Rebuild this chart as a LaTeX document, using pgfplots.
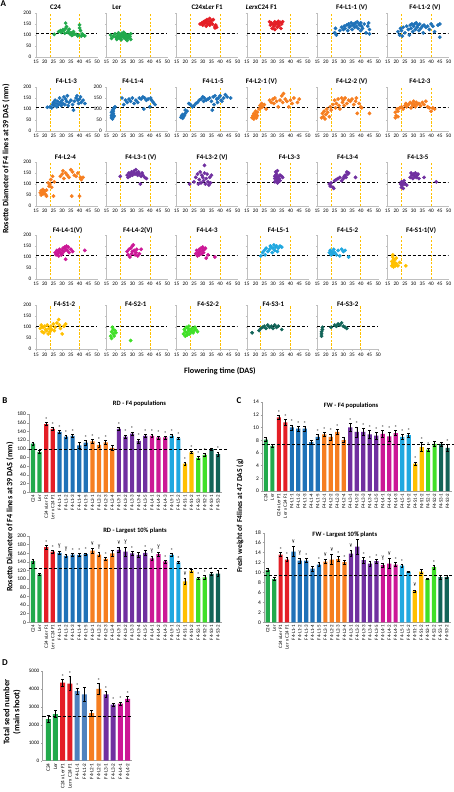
\documentclass[border=0pt]{standalone}
\usepackage{pgfplots}
\usepackage{pgfplotstable}
\pgfplotsset{compat=1.18}
\usepackage{fontspec}
\setmainfont{Carlito}

\definecolor{cPar}{RGB}{34,170,76}
\definecolor{cF1}{RGB}{228,30,38}
\definecolor{cL1}{RGB}{31,114,184}
\definecolor{cL2}{RGB}{246,126,32}
\definecolor{cL3}{RGB}{112,48,160}
\definecolor{cL4}{RGB}{204,24,150}
\definecolor{cL5}{RGB}{32,168,224}
\definecolor{cS1}{RGB}{255,192,0}
\definecolor{cS2}{RGB}{64,224,40}
\definecolor{cS3}{RGB}{18,100,88}
\definecolor{cL1d}{RGB}{79,129,189}
\definecolor{vcol}{RGB}{255,192,0}
\colorlet{g0}{cPar}\colorlet{g1}{cF1}\colorlet{g2}{cL1}\colorlet{g3}{cL2}\colorlet{g4}{cL3}
\colorlet{g5}{cL4}\colorlet{g6}{cL5}\colorlet{g7}{cS1}\colorlet{g8}{cS2}\colorlet{g9}{cS3}
\colorlet{d0}{cPar}\colorlet{d1}{cF1}\colorlet{d2}{cL1d}\colorlet{d3}{cL2}\colorlet{d4}{cL3}\colorlet{d5}{cL4}

\pgfplotsset{
 sc/.style={scale only axis, width=61bp, height=44bp, xmin=15, xmax=50, ymin=0, ymax=200,
  axis x line*=bottom, axis y line*=left, axis line style={draw=gray!50, line width=0.8bp},
  xtick={15,20,...,50}, ytick={0,50,...,200},
  tick align=outside, major tick length=1.2bp, tick style={draw=gray!50, line width=0.4bp},
  tick label style={font=\fontsize{5.3}{5.5}\selectfont},
  x tick label style={inner sep=1.2bp, yshift=-0.8bp},
  y tick label style={inner sep=1.2bp, xshift=-2bp},
  every axis title/.style={at={(0.5,1)}, anchor=center, font=\bfseries\fontsize{7}{7}\selectfont},
  /pgf/number format/assume math mode=true, anchor=south west},
 vl/.style={draw=vcol, line width=0.7bp, dash pattern=on 2.2bp off 1.5bp},
 hl/.style={draw=black, line width=1.1bp, dash pattern=on 3bp off 2bp},
 bc/.style={scale only axis, ybar, bar width=4.2bp, bar shift=0bp,
  xmin=-0.6, xmax=28.6, ymin=0,
  axis x line*=bottom, axis y line*=left, axis line style={draw=gray!75, line width=0.5bp},
  xtick={0,...,28},
  xticklabels={C24,Ler,C24 xLer F1,Ler x C24 F1,F4-L1-1,F4-L1-2,F4-L1-3,F4-L1-4,F4-L1-5,F4-L2-1,F4-L2-2,F4-L2-3,F4-L2-4,F4-L3-1,F4-L3-2,F4-L3-3,F4-L3-4,F4-L3-5,F4-L4-1,F4-L4-2,F4-L4-3,F4-L5-1,F4-L5-2,F4-S1-1,F4-S1-2,F4-S2-1,F4-S2-2,F4-S3-1,F4-S3-2},
  x tick label style={rotate=90, anchor=east, font=\fontsize{5}{5}\selectfont, inner sep=1bp},
  y tick label style={font=\fontsize{5.5}{5.5}\selectfont, inner sep=1.5bp},
  xtick style={draw=none}, ytick style={draw=gray!75, line width=0.4bp},
  tick align=outside, major tick length=1.5bp,
  every axis title/.style={at={(0.5,1)}, anchor=center, font=\bfseries\fontsize{6.6}{7}\selectfont},
  /pgf/number format/assume math mode=true, anchor=south west, clip=false},
 eb/.style={error bars/.cd, y dir=both, y explicit,
  error bar style={black, line width=0.5bp},
  error mark options={black, rotate=90, mark size=1.4bp, line width=0.5bp}},
}

\newcommand{\scat}[8]{%
\begin{axis}[sc, at={(#1bp,-#2bp)}, title={#3}, title style={xshift=#4bp, yshift=#5bp}, #7]
\addplot[vl] coordinates {(23,0)(23,200)};
\addplot[vl] coordinates {(40,0)(40,200)};
\addplot[only marks, mark=*, mark size=1.7bp, color=#6] coordinates {#8};
\addplot[hl] coordinates {(15,105)(50,105)};
\end{axis}}

\newcommand{\groupbars}[3]{%
 \pgfplotsinvokeforeach{0,...,#3}{\addplot[fill=#2##1, draw=none, restrict expr to domain={\thisrow{g}}{##1:##1}, eb] table[x=x,y=y,y error=e]{#1};}}
\newcommand{\barmarks}[3]{%
 \addplot[draw=none, fill=none, restrict expr to domain={\thisrow{s}}{1:1}, nodes near coords={*}, nodes near coords style={font=\fontsize{5.5}{5.5}\selectfont, anchor=south, inner sep=0.3bp, yshift=#2}] table[x=x, y expr=\thisrow{y}+\thisrow{e}]{#1};
 \addplot[draw=none, fill=none, restrict expr to domain={\thisrow{v}}{1:1}, nodes near coords={v}, nodes near coords style={font=\fontsize{5.5}{5.5}\selectfont, anchor=south, inner sep=0.3bp, yshift=#3}] table[x=x, y expr=\thisrow{y}+\thisrow{e}]{#1};}

\pgfplotstableread{
x y e g s v
0 112 3 0 0 0
1 93 3 0 0 0
2 157 3 1 1 0
3 146 3 1 1 0
4 139 3 2 1 0
5 128 3 2 1 0
6 130 3 2 1 0
7 108 6 2 0 0
8 114 5 2 1 0
9 117 4 3 1 0
10 109 5 3 1 0
11 115 4 3 1 0
12 102 6 3 0 0
13 146 3 4 1 0
14 128 4 4 1 0
15 135 4 4 1 0
16 118 5 4 1 0
17 130 3 4 1 0
18 130 3 5 1 0
19 126 4 5 1 0
20 126 3 5 1 0
21 130 3 6 1 0
22 124 3 6 1 0
23 66 3 7 1 0
24 92 3 7 1 0
25 79 3 8 1 0
26 86 3 8 1 0
27 99 3 9 0 0
28 88 5 9 1 0
}\tRDa
\pgfplotstableread{
x y e g s v
0 142 5 0 0 0
1 111 2 0 0 0
2 174 4 1 1 0
3 164 3 1 1 0
4 161 4 2 1 1
5 154 4 2 1 1
6 157 3 2 1 0
7 156 3 2 1 0
8 158 3 2 1 0
9 166 5 3 1 1
10 157 5 3 1 1
11 147 4 3 1 0
12 160 6 3 0 0
13 168 5 4 1 1
14 164 10 4 1 1
15 160 5 4 1 0
16 156 6 4 0 0
17 161 5 4 1 0
18 148 5 5 1 1
19 158 4 5 1 1
20 141 3 5 1 0
21 156 3 6 1 0
22 139 3 6 1 0
23 95 6 7 1 1
24 120 4 7 0 0
25 102 3 8 1 0
26 104 4 8 1 0
27 112 3 9 1 0
28 113 7 9 0 0
}\tRDb
\pgfplotstableread{
x y e g s v
0 8.1 0.3 0 0 0
1 7.1 0.2 0 0 0
2 11.6 0.3 1 1 0
3 10.8 0.5 1 1 0
4 10.0 0.4 2 1 0
5 9.8 0.4 2 1 0
6 9.8 0.4 2 1 0
7 7.7 0.3 2 0 0
8 8.5 0.4 2 1 0
9 8.9 0.3 3 1 0
10 8.5 0.5 3 1 0
11 9.3 0.4 3 1 0
12 8.0 0.4 3 0 0
13 10.0 0.6 4 1 0
14 9.3 0.8 4 1 0
15 9.3 0.5 4 1 0
16 8.9 0.6 4 1 0
17 8.7 0.5 4 1 0
18 9.0 0.5 5 1 0
19 8.6 0.7 5 1 0
20 9.1 0.4 5 1 0
21 8.5 0.4 6 1 0
22 8.8 0.3 6 1 0
23 4.3 0.3 7 1 0
24 6.9 0.7 7 1 0
25 6.5 0.3 8 1 0
26 7.4 0.4 8 0 0
27 7.4 0.3 9 0 0
28 6.8 0.5 9 1 0
}\tFWa
\pgfplotstableread{
x y e g s v
0 10.5 0.3 0 0 0
1 8.7 0.3 0 0 0
2 13.6 0.4 1 1 0
3 12.6 0.4 1 1 0
4 14.2 1.0 2 1 1
5 12.4 0.5 2 1 1
6 12.4 0.4 2 1 0
7 10.8 0.5 2 0 0
8 11.6 0.4 2 1 0
9 12.2 0.4 3 1 1
10 12.6 1.0 3 1 1
11 12.7 0.5 3 1 0
12 12.1 0.4 3 1 0
13 13.8 0.6 4 1 1
14 15.2 1.5 4 1 1
15 12.5 0.6 4 1 0
16 11.8 0.5 4 1 0
17 12.3 0.4 4 1 0
18 11.5 0.4 5 1 1
19 11.8 1.0 5 1 1
20 11.6 0.4 5 1 0
21 11.4 0.3 6 1 0
22 10.2 0.1 6 0 0
23 6.3 0.2 7 1 1
24 10.2 0.4 7 0 0
25 8.7 0.1 8 0 0
26 11.1 0.4 8 1 0
27 9.1 0.4 9 0 0
28 9.1 0.3 9 0 0
}\tFWb
\pgfplotstableread{
x y e g s v
0 2320 200 0 0 0
1 2600 200 0 0 0
2 4350 180 1 1 0
3 4300 400 1 1 0
4 3880 150 2 1 0
5 3700 400 2 0 0
6 2650 150 3 0 0
7 4000 300 3 1 0
8 3700 150 4 1 0
9 3120 100 4 1 0
10 3180 100 5 1 0
11 3450 150 5 1 0
}\tSeed

\begin{document}
\begin{tikzpicture}
\useasboundingbox (0,0) rectangle (454bp,-792bp);
\tikzset{lab/.style={font=\bfseries\fontsize{9}{9}\selectfont}}
\node[lab, anchor=north west, inner sep=0pt] at (0.5bp,-0.5bp) {A};
\node[lab] at (5bp,-401bp) {B};
\node[lab] at (239bp,-401bp) {C};
\node[lab] at (5bp,-663bp) {D};
\node[rotate=90, font=\bfseries\fontsize{8.2}{8.5}\selectfont] at (6bp,-159bp) {Rosette Diameter of F4 lines at 39 DAS (mm)};
\node[font=\bfseries\fontsize{8.2}{8.5}\selectfont] at (220bp,-371bp) {Flowering time (DAS)};
\node[rotate=90, font=\bfseries\fontsize{8.2}{8.5}\selectfont] at (10bp,-517bp) {Rosette Diameter of F4 lines at 39 DAS (mm)};
\node[rotate=90, font=\bfseries\fontsize{7.6}{8}\selectfont] at (240bp,-516bp) {Fresh weight of F4lines at 47 DAS (g)};
\node[rotate=90, align=center, font=\bfseries\fontsize{8.5}{10}\selectfont] at (12bp,-712bp) {Total seed number\\(main shoot)};

% ---------- Panel A ----------
% row 1
\scat{36}{57}{C24}{-11}{6}{cPar}{}{(25.5,103)(28,115)(29,120)(29.5,112)(30,118)(30.5,125)(31,120)(31.5,108)(32,154)(32,130)(32.5,138)(33,112)(33.5,118)(34,126)(34.5,105)(35,110)(35.5,98)(36,100)(36.5,115)(37,104)(38,103)(39,96)(39.5,100)(40,146)(40,132)(40.5,120)(41,95)(41.5,105)(42,100)(43,96)}
\scat{106.3}{57}{Ler}{-20}{6}{cPar}{yticklabels={}}{(17.5,100)(18,85)(19,95)(20,105)(20.5,90)(21,80)(21.5,98)(22,88)(22,110)(22.5,95)(23,85)(23,102)(23.5,78)(24,92)(24,108)(24.5,100)(25,88)(25,112)(25.5,95)(26,82)(26,104)(26.5,90)(27,98)(27,75)(27.5,86)(28,100)(28.5,92)(29,80)(29,105)}
\scat{176.6}{57}{C24x\textit{Ler} F1}{0}{6}{cF1}{yticklabels={}}{(28.5,150)(29.5,155)(30,145)(30.5,160)(31,152)(31.5,165)(32,140)(32,158)(32.5,170)(33,150)(33.5,162)(34,145)(34,175)(34.5,155)(35,165)(35.5,150)(36,170)(37,140)(37,132)(37.5,145)(38,135)}
\scat{246.9}{57}{\textit{Ler}xC24 F1}{-16}{6}{cF1}{yticklabels={}}{(28,160)(28.5,145)(29,155)(29.5,130)(30,150)(30.5,140)(31,160)(31,125)(31.5,148)(32,155)(32.5,135)(33,150)(33,162)(33.5,142)(34,158)(34.5,130)(35,150)(35.5,160)}
\scat{317.2}{57}{F4-L1-1 (V)}{4}{6}{cL1}{yticklabels={}}{(25,110)(25.5,130)(26,100)(28,120)(29,135)(30,125)(30.5,140)(31,130)(32,145)(32.5,120)(33,150)(33.5,135)(34,140)(34.5,155)(35,125)(35.5,145)(36,150)(36.5,135)(37,155)(37.5,140)(38,160)(38.5,130)(39,150)(39.5,145)(40,155)(40,120)(40.5,140)(41,130)(42,150)(43,110)(44,140)(44.5,155)(45,125)(45,105)}
\scat{387.5}{57}{F4-L1-2 (V)}{7}{6}{cL1}{yticklabels={}}{(21,115)(22,100)(22.5,130)(23,120)(23.5,95)(24,135)(25,110)(26,140)(27,125)(27.5,100)(28,145)(28.5,130)(29,150)(29.5,115)(30,140)(30.5,150)(31,125)(31.5,155)(32,135)(32.5,145)(33,120)(33.5,150)(34,130)(35,140)(35.5,110)(36,145)(37,135)(38,140)(39,125)(40,150)(41,140)(42,115)(44,145)(45,150)(45,90)}
% row 2
\scat{36}{131}{F4-L1-3}{0}{6}{cL1}{}{(21.5,108)(23,110)(24,105)(24.5,120)(25,130)(25.5,115)(26,140)(26.5,125)(27,110)(27.5,135)(28,120)(28.5,150)(29,130)(29.5,115)(30,140)(30.5,125)(31,155)(31.5,120)(32,145)(32.5,135)(33,160)(33.5,115)(34,130)(35,140)(36,120)(36.5,95)(37,135)(38,150)(38.5,160)(39,140)(39.5,125)(40,145)(40.5,155)(41,130)(42,140)(43,125)}
\scat{106.3}{131}{F4-L1-4}{-4}{6}{cL1}{}{(18,60)(18,70)(18.5,55)(18.5,65)(18.5,75)(19,62)(19,80)(19,90)(19.5,68)(18,85)(19,100)(19.5,105)(20,110)(18.5,95)(24,150)(25,120)(26,140)(27,130)(28,145)(29,135)(30,150)(31,125)(32,140)(33,130)(34,150)(35,145)(36,155)(36.5,100)(37,150)(38,140)(39,145)(40,110)(40.5,150)(41,140)(42,130)(43,120)}
\scat{176.6}{131}{F4-L1-5}{6}{6}{cL1}{yticklabels={}}{(17.5,62)(18,70)(18.5,58)(18.5,75)(19,65)(19.5,72)(20,80)(20,95)(21,90)(22,125)(23,120)(24,110)(25,115)(26,125)(27,130)(28,140)(29,145)(30,155)(30.5,135)(31,150)(32,140)(33,145)(34,150)(35,135)(35.5,95)(36,155)(36.5,120)(37,160)(38,145)(38.5,130)(39,150)(40,160)(40.5,140)(41,135)(42,150)(43,165)(44,155)(46,150)}
\scat{246.9}{131}{F4-L2-1 (V)}{-16}{6}{cL2}{yticklabels={}}{(18,60)(18.5,70)(19,55)(19,80)(19.5,65)(20,75)(20,90)(20.5,60)(21,85)(21,70)(22,100)(22.5,115)(23,105)(23.5,125)(24,110)(25,120)(26,100)(28,140)(29,130)(30,145)(30.5,125)(31,150)(32,135)(33,110)(34,140)(35,160)(35.5,130)(36,170)(37,145)(38,135)(39,110)(40,140)(41,125)(42,150)(44,130)(45,145)}
\scat{317.2}{131}{F4-L2-2 (V)}{4}{6}{cL2}{yticklabels={}}{(17.5,60)(18,80)(18.5,65)(19,90)(19.5,55)(20,75)(20.5,100)(21,85)(22,65)(22.5,110)(23,95)(24,120)(25,140)(25.5,105)(26,125)(27,145)(27.5,115)(28,100)(29,150)(29.5,130)(30,140)(30.5,115)(31,150)(32,125)(33,140)(34,135)(35,145)(36,120)(37,135)(37.5,150)(38,80)(39,125)(40,110)(40.5,105)(45,80)}
\scat{387.5}{131}{F4-L2-3}{2}{6}{cL2}{yticklabels={}}{(19.5,60)(19.5,85)(20,70)(20.5,100)(21,90)(21,65)(22,105)(23,110)(24,100)(25,115)(25.5,125)(26,110)(27,120)(28,130)(28.5,105)(29,125)(29.5,115)(30,135)(30.5,120)(31,110)(31.5,130)(32,120)(33,125)(34,115)(35,130)(36,120)(37,135)(38,110)(39,105)(40,90)(41,105)(42,100)}
% row 3
\scat{36}{206}{F4-L2-4}{-1}{5}{cL2}{}{(17.5,60)(18,70)(18,50)(18.5,65)(19,55)(19,75)(19.5,62)(20,68)(20.5,52)(21,45)(21,72)(22,105)(22.5,90)(23,100)(23.5,120)(24,85)(24.5,135)(25,45)(25.5,110)(29,135)(30,145)(30.5,160)(31,125)(32,150)(33,140)(34,130)(35,165)(35.5,45)(36,155)(37,140)(38,135)(39,150)(40,45)(40.5,130)(41,120)(42,130)}
\scat{106.3}{206}{F4-L3-1 (V)}{4}{5}{cL3}{yticklabels={}}{(23,135)(27,140)(27.5,130)(28,150)(28.5,135)(29,145)(29.5,155)(30,140)(30.5,150)(31,160)(31.5,145)(32,165)(32.5,150)(33,140)(33.5,155)(34,145)(34.5,100)(35,135)(35.5,150)(36,140)(37,130)(38,125)}
\scat{176.6}{206}{F4-L3-2 (V)}{5}{5}{cL3}{yticklabels={}}{(22.5,100)(25,110)(26,130)(27,145)(27.5,100)(28,120)(28.5,155)(29,105)(29.5,140)(30,130)(30.5,115)(31,185)(31,150)(31.5,100)(32,125)(32.5,145)(33,110)(33.5,95)(34,130)(34.5,105)(35,140)}
\scat{246.9}{206}{F4-L3-3}{12}{5}{cL3}{yticklabels={}}{(31,110)(31,125)(31.5,140)(31.5,155)(32,115)(32,130)(32,145)(32.5,120)(32.5,160)(33,135)(33,110)(33.5,125)(34,140)(34,115)(35,135)(35.5,130)(32.5,105)(31,135)}
\scat{317.2}{206}{F4-L3-4}{0}{5}{cL3}{yticklabels={}}{(22,100)(22.5,90)(23,105)(24,85)(24.5,80)(25,115)(26,120)(27,125)(28,130)(29,115)(30,125)(30.5,135)(31,140)(31.5,130)(32,155)(32.5,145)(33,150)(37,130)}
\scat{387.5}{206}{F4-L3-5}{0}{5}{cL3}{yticklabels={}}{(22.5,100)(23,85)(23,110)(23.5,95)(24,105)(24,80)(24.5,115)(25,100)(26,95)(28,130)(28.5,150)(29,140)(29.5,125)(30,145)(30.5,135)(31,150)(31.5,130)(32,140)(32.5,145)(33,125)(36,130)(43,110)}
% row 4
\scat{36}{279}{F4-L4-1(V)}{1}{5}{cL4}{}{(26,120)(26.5,110)(27,130)(27.5,115)(28,125)(28,105)(28.5,135)(29,120)(29.5,110)(30,130)(30,115)(30.5,140)(31,125)(31.5,145)(32,90)(32,135)(32.5,150)(33,130)(33.5,145)(34,120)(35,135)(36,125)(43,130)}
\scat{106.3}{279}{F4-L4-2(V)}{1}{5}{cL4}{yticklabels={}}{(27,125)(27.5,110)(28,135)(28.5,100)(29,140)(29.5,115)(30,150)(30,125)(30.5,155)(31,130)(31.5,110)(32,120)(32.5,135)(33,105)(34,115)(35,135)}
\scat{176.6}{279}{F4-L4-3}{0}{5}{cL4}{yticklabels={}}{(26,115)(26.5,130)(27,105)(27.5,120)(28,135)(28,110)(28.5,125)(29,140)(29.5,115)(30,145)(30,130)(30.5,120)(31,135)(31.5,140)(32,95)(33,110)(37,100)}
\scat{246.9}{279}{F4-L5-1}{1}{5}{cL5}{yticklabels={}}{(23,105)(24,120)(25,130)(25.5,110)(26,140)(27,125)(28,135)(28.5,150)(29,145)(29.5,120)(30,140)(30.5,155)(31,130)(31.5,145)(32,150)(32.5,125)(33,140)(34,150)(35,145)}
\scat{317.2}{279}{F4-L5-2}{0}{5}{cL5}{yticklabels={}}{(22,120)(22.5,130)(23,110)(23.5,125)(24,115)(24.5,135)(25,120)(26,110)(27,130)(28,105)(29,135)(30,125)(31,130)(33,100)}
\scat{387.5}{279}{F4-S1-1(V)}{3}{5}{cS1}{yticklabels={}}{(17.5,60)(17.5,80)(18,100)(18,70)(18,110)(18.5,55)(18.5,90)(19,65)(19,75)(19,85)(19.5,60)(20,70)(20,95)(21,60)(22,75)(25.5,60)}
% row 5
\scat{36}{349.3}{F4-S1-2}{-2}{1}{cS1}{}{(17.5,95)(18,110)(18.5,80)(19,100)(19.5,75)(20,105)(20.5,90)(21,85)(21.5,110)(22,70)(22.5,95)(23,80)(23.5,105)(24,90)(25,115)(25.5,85)(26,100)(27,120)(28,135)(28.5,110)(29,95)(30,70)(31,105)(32,115)}
\scat{106.3}{349.3}{F4-S2-1}{-1}{1}{cS2}{yticklabels={}}{(17.5,60)(18,80)(18,50)(18.5,100)(19,70)(19,90)(19.5,60)(20,85)(20.5,75)(29,40)}
\scat{176.6}{349.3}{F4-S2-2}{1}{1}{cS2}{yticklabels={}}{(19,70)(19.5,90)(20,80)(20.5,100)(21,75)(21.5,95)(22,85)(22,105)(22.5,70)(23,90)(23.5,80)(24,95)(24.5,75)(25,85)(25.5,100)(26,90)(27,80)(20,60)(21,65)}
\scat{246.9}{349.3}{F4-S3-1}{-4}{1}{cS3}{yticklabels={}}{(18,75)(22,85)(23,95)(24,100)(25,105)(26,95)(27,110)(28,100)(29,105)(30,95)(31,110)(32,100)(33,105)(35,90)}
\scat{317.2}{349.3}{F4-S3-2}{0}{1}{cS3}{yticklabels={}}{(17.5,60)(17.5,70)(17.5,80)(18,90)(18,100)(23,100)(25,110)(26,105)(27,115)(28,110)(29,120)(30,105)(31,100)(32,95)}

% ---------- Panel B ----------
\begin{axis}[bc, at={(29bp,-492.3bp)}, width=193bp, height=78.3bp, ymax=180, ytick={0,20,...,180},
  title={RD - F4 populations}, title style={xshift=14bp, yshift=10bp}]
\groupbars{\tRDa}{g}{9}
\barmarks{\tRDa}{0.5bp}{4bp}
\addplot[hl, sharp plot, forget plot] coordinates {(-0.6,99)(29.3,99)};
\end{axis}
\begin{axis}[bc, at={(29bp,-622.3bp)}, width=193bp, height=86.3bp, ymax=200, ytick={0,20,...,200},
  title={RD - Largest 10\% plants}, title style={xshift=9.5bp, yshift=5.3bp}]
\groupbars{\tRDb}{g}{9}
\barmarks{\tRDb}{0.5bp}{4bp}
\addplot[hl, sharp plot, forget plot] coordinates {(-0.6,124)(29.3,124)};
\end{axis}

% ---------- Panel C ----------
\begin{axis}[bc, at={(262bp,-491bp)}, width=189.5bp, height=89bp, ymax=14, ytick={0,2,...,14},
  title={FW - F4 populations}, title style={xshift=-5.7bp, yshift=-3.7bp}]
\groupbars{\tFWa}{g}{9}
\barmarks{\tFWa}{0.5bp}{4bp}
\addplot[hl, sharp plot, forget plot] coordinates {(-0.6,7.3)(29.3,7.3)};
\end{axis}
\begin{axis}[bc, at={(264bp,-622.3bp)}, width=186.6bp, height=89.6bp, ymax=18, ytick={0,2,...,18},
  title={FW - Largest 10\% plants}, title style={xshift=-12.5bp, yshift=-2bp}]
\groupbars{\tFWb}{g}{9}
\barmarks{\tFWb}{0.5bp}{4bp}
\addplot[hl, sharp plot, forget plot] coordinates {(-0.6,9.45)(29.3,9.45)};
\end{axis}

% ---------- Panel D ----------
\begin{axis}[bc, at={(42.5bp,-760.7bp)}, width=89.5bp, height=89.7bp, xmin=-0.8, xmax=11.6,
  ymax=5000, ytick={0,1000,...,5000}, bar width=5bp, xtick={0,...,11},
  xticklabels={C24,Ler,C24 x Ler F1,Ler x C24 F1,F4-L1-1,F4-L1-2,F4-L2-1,F4-L2-2,F4-L3-1,F4-L3-2,F4-L4-1,F4-L4-2},
  x tick label style={font=\fontsize{5.2}{5.5}\selectfont},
  y tick label style={font=\fontsize{5.2}{5.5}\selectfont},
  /pgf/number format/1000 sep={}, scaled y ticks=false]
\groupbars{\tSeed}{d}{5}
\barmarks{\tSeed}{0.5bp}{4bp}
\addplot[hl, sharp plot, forget plot] coordinates {(-0.8,2450)(11.6,2450)};
\end{axis}
\end{tikzpicture}
\end{document}
